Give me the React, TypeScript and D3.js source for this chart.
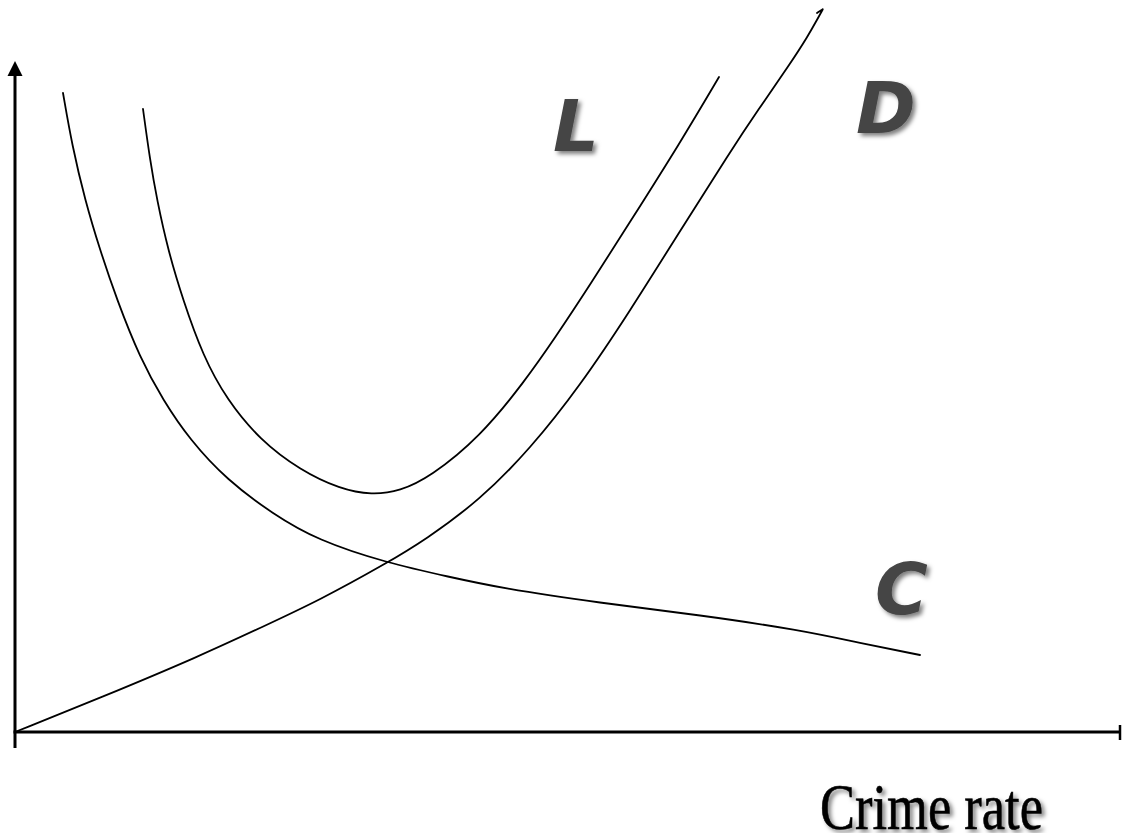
import React from "react";
import * as d3 from "d3";

// Curve data in chart units (x: 0..1105, y: 0..670)
type P = [number, number];
const toUnits = (pts: P[]): P[] => pts.map(([px, py]) => [px - 15, 732 - py]);

// Cost of crime (C)
const curveC: P[] = toUnits([
  [63, 93], [72, 145], [85, 200], [100, 250], [117, 300], [140, 358], [163, 400], [190, 440],
  [227, 480], [273, 514], [317, 540], [387, 563], [450, 577], [500, 588],
  [600, 603], [700, 615], [800, 630], [860, 643], [920, 655],
]);
// Total loss (L)
const curveL: P[] = toUnits([
  [143, 109], [150, 160], [157, 200], [168, 250], [183, 300], [203, 356], [227, 400],
  [260, 440], [300, 470], [340, 489], [372, 495], [400, 491], [430, 477], [480, 437],
  [525, 381], [555, 338], [590, 285], [630, 222], [680, 143], [719, 77],
]);
// Damage (D)
const curveD: P[] = toUnits([
  [15, 732], [100, 698], [200, 656], [260, 628], [320, 600], [387, 563],
  [425, 540], [480, 500], [530, 449], [580, 386], [630, 311], [680, 231],
  [730, 152], [758, 110], [790, 64], [808, 36], [818, 18], [823, 9], [823, 9], [817, 13],
]);

const seriesLabels = ["L", "D", "C"];
const axisLabel = "Crime rate";

const W = 1122;
const H = 833;

export default function App() {
  const x = d3.scaleLinear().domain([0, 1105]).range([15, 1120]);
  const y = d3.scaleLinear().domain([0, 670]).range([732, 62]);
  const line = d3
    .line<P>()
    .x((d) => x(d[0]))
    .y((d) => y(d[1]))
    .curve(d3.curveBasis);

  const labelPos: Record<string, P> = {
    L: [x(538), y(581)],
    D: [x(841), y(599)],
    C: [x(860), y(118)],
  };

  return (
    <svg
      width={W}
      height={H}
      style={{ position: "absolute", left: 0, top: 0, background: "#fff" }}
    >
      <defs>
        <filter id="shadow" x="-30%" y="-30%" width="160%" height="160%">
          <feDropShadow dx="3" dy="3" stdDeviation="2" floodColor="#000" floodOpacity="0.5" />
        </filter>
      </defs>
      <rect width={W} height={H} fill="#fff" />
      {/* axes */}
      <line x1={x(0)} y1={748} x2={x(0)} y2={74} stroke="#000" strokeWidth={3} />
      <path d={`M${x(0)},${y(670) - 1} L${x(0) - 7.5},${y(670) + 14} L${x(0) + 7.5},${y(670) + 14} Z`} fill="#000" />
      <line x1={x(0) - 1.5} y1={y(0)} x2={x(1105)} y2={y(0)} stroke="#000" strokeWidth={3} />
      <line x1={x(1105)} y1={y(0) - 7} x2={x(1105)} y2={y(0) + 8} stroke="#000" strokeWidth={2.5} />
      {/* curves */}
      {[curveC, curveL, curveD].map((c, i) => (
        <path key={i} d={line(c) || ""} fill="none" stroke="#000" strokeWidth={1.8} strokeLinecap="round" strokeLinejoin="round" />
      ))}
      {/* labels */}
      {seriesLabels.map((s) => (
        <text
          key={s}
          x={labelPos[s][0]}
          y={labelPos[s][1]}
          fontFamily="'DejaVu Sans', Verdana, sans-serif"
          fontWeight="bold"
          fontStyle="italic"
          fontSize={72}
          fill="#444"
          filter="url(#shadow)"
        >
          {s}
        </text>
      ))}
      <text
        x={820}
        y={829}
        fontFamily="'Liberation Serif', 'Times New Roman', serif"
        fontSize={66}
        textLength={223}
        lengthAdjust="spacingAndGlyphs"
        fill="#000"
        stroke="#000"
        strokeWidth={0.6}
        filter="url(#shadow)"
      >
        {axisLabel}
      </text>
    </svg>
  );
}
